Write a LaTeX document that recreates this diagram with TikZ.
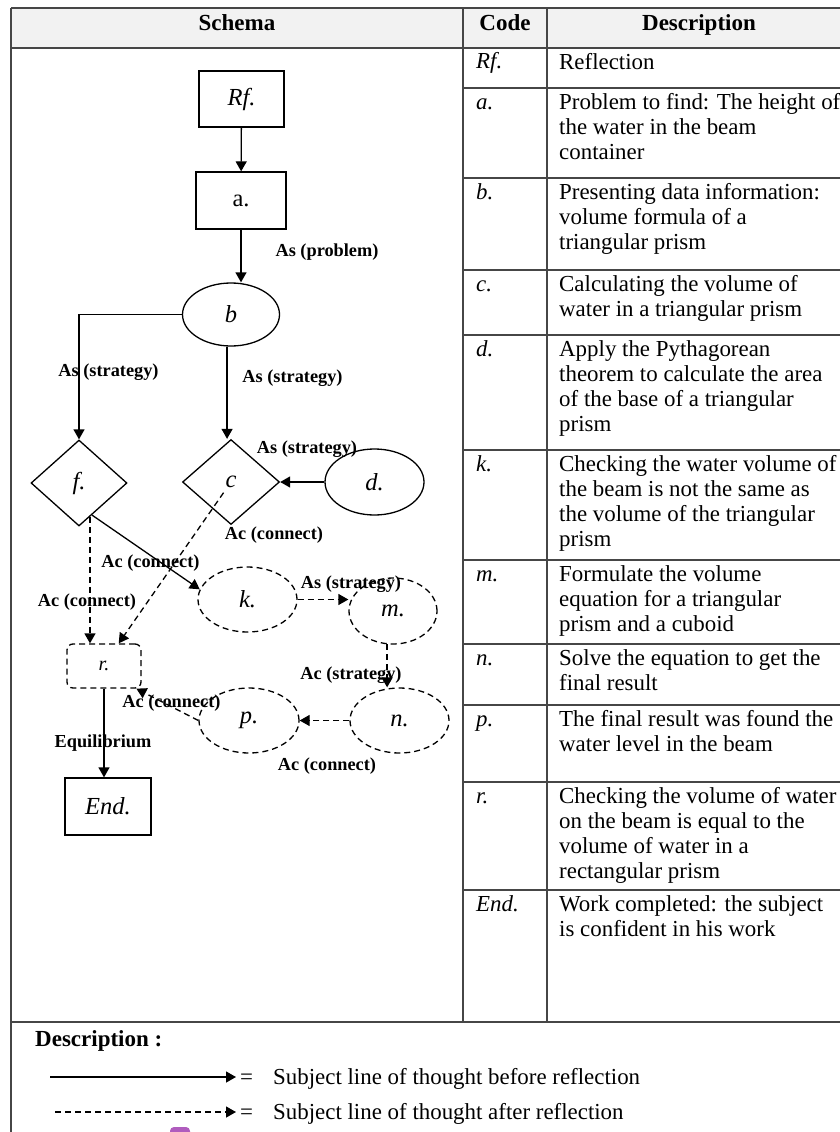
\documentclass[tikz,border=0pt]{standalone}
\usepackage{fontspec}
\setmainfont{Liberation Serif}
\usetikzlibrary{shapes.geometric,arrows.meta,calc}
\definecolor{gridc}{RGB}{70,70,70}
\definecolor{headfill}{RGB}{242,242,242}
\definecolor{badge}{RGB}{176,92,190}
\begin{document}
\begin{tikzpicture}[x=1pt,y=-1pt,
  gridline/.style={draw=gridc,line width=1.1pt},
  nodefont/.style={font=\fontsize{24.5}{28}\selectfont},
  boxnode/.style={draw,rectangle,line width=1.3pt,inner sep=0,nodefont},
  ovalnode/.style={draw,ellipse,line width=1.3pt,inner sep=0,nodefont},
  dianode/.style={draw,diamond,line width=1.3pt,inner sep=0,nodefont},
  dashpat/.style={dash pattern=on 6pt off 4pt},
  flow/.style={line width=1.3pt,-{Triangle[length=10pt,width=11pt]}},
  after/.style={flow,dashpat},
  lbl/.style={inner sep=0,font=\fontsize{18.3}{20}\selectfont\bfseries},
  headtxt/.style={anchor=base,inner sep=0,font=\fontsize{23}{26}\selectfont\bfseries},
  desctxt/.style={anchor=north west,inner sep=0,align=left,font=\fontsize{22.9}{25}\selectfont},
  codetxt/.style={anchor=base west,inner sep=0,font=\fontsize{22.9}{25}\selectfont\itshape},
  legtxt/.style={anchor=base west,inner sep=0,font=\fontsize{22.9}{25}\selectfont}]
\useasboundingbox (0,0) rectangle (840,1132);
% ---------- table frame ----------
\fill[headfill] (11,8) rectangle (840,48);
\draw[gridc,line width=1.8pt] (11,8) -- (840,8);
\draw[gridline] (11,8) -- (11,1132);
\draw[gridline] (463,8) -- (463,1022);
\draw[gridline] (547,8) -- (547,1022);
\draw[gridline] (11,48) -- (840,48);
\foreach \yy in {88,178,270,335,450,560,644,705,782,890}
  \draw[gridline] (463,\yy) -- (840,\yy);
\draw[gridline] (11,1022) -- (840,1022);
% ---------- header ----------
\node[headtxt] (hschema) at (237,31) {Schema};
\node[headtxt] (hcode) at (505,31) {Code};
\node[headtxt] (hdesc) at (699,31) {Description};
% ---------- code column ----------
\node[codetxt] (cRf) at (476,69) {Rf.};
\node[codetxt] (ca) at (476,109) {a.};
\node[codetxt] (cb) at (476,199) {b.};
\node[codetxt] (cc) at (476,291) {c.};
\node[codetxt] (cd) at (476,356) {d.};
\node[codetxt] (ck) at (476,471) {k.};
\node[codetxt] (cm) at (476,581) {m.};
\node[codetxt] (cn) at (476,665) {n.};
\node[codetxt] (cp) at (476,726) {p.};
\node[codetxt] (cr) at (476,803) {r.};
\node[codetxt] (cEnd) at (476,911) {End.};
% ---------- description column ----------
\node[desctxt] (dRf) at (559,51.5) {\strut Reflection};
\node[desctxt] (da) at (559,91.5) {\strut Problem to find: The height of\\the water in the beam\\container};
\node[desctxt] (db) at (559,181.5) {\strut Presenting data information:\\volume formula of a\\triangular prism};
\node[desctxt] (dc) at (559,273.5) {\strut Calculating the volume of\\water in a triangular prism};
\node[desctxt] (dd) at (559,338.5) {\strut Apply the Pythagorean\\theorem to calculate the area\\of the base of a triangular\\prism};
\node[desctxt] (dk) at (559,453.5) {\strut Checking the water volume of\\the beam is not the same as\\the volume of the triangular\\prism};
\node[desctxt] (dm) at (559,563.5) {\strut Formulate the volume\\equation for a triangular\\prism and a cuboid};
\node[desctxt] (dn) at (559,647.5) {\strut Solve the equation to get the\\final result};
\node[desctxt] (dp) at (559,708.5) {\strut The final result was found the\\water level in the beam};
\node[desctxt] (dr) at (559,785.5) {\strut Checking the volume of water\\on the beam is equal to the\\volume of water in a\\rectangular prism};
\node[desctxt] (dEnd) at (559,893.5) {\strut Work completed: the subject\\is confident in his work};
% ---------- schema nodes ----------
\node[boxnode,minimum width=85pt,minimum height=56pt] (Rf) at (241.5,99) {\itshape Rf.};
\node[boxnode,minimum width=90pt,minimum height=57pt] (a) at (241,200.5) {a.};
\node[ovalnode,minimum width=97pt,minimum height=63pt] (b) at (231,314.5) {\itshape b};
\node[dianode,minimum width=96pt,minimum height=86pt] (f) at (79,483) {\itshape f.};
\node[dianode,minimum width=97pt,minimum height=85pt] (c) at (231,482) {\itshape c};
\node[ovalnode,minimum width=99pt,minimum height=66pt] (d) at (374.5,482) {\itshape d.};
\node[ovalnode,dashpat,minimum width=99pt,minimum height=65pt] (k) at (247.5,599.5) {\itshape k.};
\node[ovalnode,dashpat,minimum width=88pt,minimum height=66pt] (m) at (393,611) {\itshape m.};
\node[ovalnode,dashpat,minimum width=99pt,minimum height=65pt] (n) at (399.5,720.5) {\itshape n.};
\node[ovalnode,dashpat,minimum width=100pt,minimum height=65pt] (p) at (249,720.5) {\itshape p.};
\node[boxnode,dashpat,rounded corners=6pt,minimum width=74pt,minimum height=44pt,font=\fontsize{20}{24}\selectfont] (r) at (104,666) {\itshape r.};
\node[boxnode,minimum width=86pt,minimum height=57pt] (End) at (108,806.5) {\itshape End.};
% ---------- connectors ----------
\draw[flow] (Rf) -- (a);
\draw[flow] (a.south) -- (a.south |- b.north);
\draw[flow] (b.west) -| (f.north);
\draw[flow] (b.-97) -- (b.-97 |- c.north);
\draw[flow] (d.west) -- (c.east);
\draw[flow] (f.-68) -- (k.168);
\draw[after] (f.-72) -- (f.-72 |- r.north);
\draw[after,shorten <=13pt] (c.center) -- (r.57);
\draw[after] (k.east) -- (k.east -| m.west);
\draw[after] (m.-100) -- (m.-100 |- n.north);
\draw[after] (n.west) -- (p.east);
\draw[after] (p.west) -- (r.-35);
\draw[flow] (r.south) -- (r.south |- End.north);
% ---------- connector labels ----------
\node[lbl] (l1) at (327,252) {As (problem)};
\node[lbl] (l2) at (108.5,372) {As (strategy)};
\node[lbl] (l3) at (292.5,378) {As (strategy)};
\node[lbl] (l4) at (307,449) {As (strategy)};
\node[lbl] (l5) at (274,535) {Ac (connect)};
\node[lbl] (l6) at (150.5,563) {Ac (connect)};
\node[lbl] (l7) at (87,602) {Ac (connect)};
\node[lbl] (l8) at (351,584) {As (strategy)};
\node[lbl] (l9) at (351,675) {Ac (strategy)};
\node[lbl] (l10) at (171.5,703) {Ac (connect)};
\node[lbl] (l11) at (327,766) {Ac (connect)};
\node[lbl] (l12) at (103,743) {Equilibrium};
% ---------- legend ----------
\node[anchor=base west,inner sep=0,font=\fontsize{23}{26}\selectfont\bfseries] (legh) at (35,1046) {Description :};
\coordinate (s1) at (50,1077);
\coordinate (e1) at (236,1077);
\coordinate (s2) at (55,1112);
\coordinate (e2) at (236,1112);
\draw[flow] (s1) -- (e1);
\draw[after] (s2) -- (e2);
\node[legtxt] (eq1) at (240,1084) {=};
\node[legtxt] (eq2) at (240,1119) {=};
\node[legtxt] (t1) at (273,1084) {Subject line of thought before reflection};
\node[legtxt] (t2) at (273,1119) {Subject line of thought after reflection};
\fill[badge,rounded corners=4pt] (170,1127) rectangle (190,1142);
\end{tikzpicture}
\end{document}
